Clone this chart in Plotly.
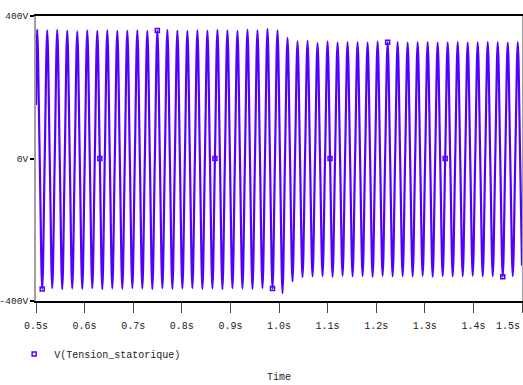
import plotly.graph_objects as go

# Times (s) of the positive peaks
peak_times = [0.5025, 0.5231, 0.5437, 0.5643, 0.5849, 0.6055, 0.6261, 0.6467, 0.6673, 0.6879,
              0.7085, 0.7291, 0.7497, 0.7703, 0.7909, 0.8115, 0.8321, 0.8527, 0.8733, 0.8939,
              0.9145, 0.9351, 0.9557, 0.9763, 0.9969, 1.0175, 1.0381, 1.0587, 1.0793, 1.0999,
              1.1205, 1.1411, 1.1617, 1.1823, 1.2029, 1.2235, 1.2441, 1.2647, 1.2853, 1.3059,
              1.3265, 1.3471, 1.3677, 1.3883, 1.4089, 1.4295, 1.4501, 1.4707, 1.4913]
# Positive peak values (V)
pos_peak = [362, 360, 361, 359, 357, 360, 358, 360, 358, 359,
            360, 358, 359, 361, 359, 358, 360, 359, 361, 360,
            358, 362, 360, 364, 360, 339, 329, 330, 324, 328,
            325, 327, 326, 325, 328, 326, 327, 325, 326, 327,
            325, 326, 327, 325, 326, 327, 326, 325, 327]
# Negative peak values (V), one between each pair of positive peaks
neg_peak = [-366, -364, -367, -365, -366, -364, -367, -365, -366, -364,
            -365, -367, -364, -366, -365, -364, -366, -365, -367, -364,
            -365, -366, -364, -365, -378, -345, -333, -331, -330, -332,
            -329, -331, -330, -332, -329, -331, -330, -331, -329, -332,
            -330, -331, -330, -329, -331, -330, -332, -330]
start_point = (0.5, 150)
end_point = (1.5, -300)

x_ticks = [0.5, 0.6, 0.7, 0.8, 0.9, 1.0, 1.1, 1.2, 1.3, 1.4, 1.5]
x_labels = ["0.5s", "0.6s", "0.7s", "0.8s", "0.9s", "1.0s", "1.1s", "1.2s", "1.3s", "1.4s", "1.5s"]
y_ticks = [-400, 0, 400]
y_labels = ["-400V", "0V", "400V"]

# Build the sample list: peaks, zero crossings, troughs
xs = [start_point[0]]
ys = [start_point[1]]
for k, tp in enumerate(peak_times):
    xs.append(tp); ys.append(pos_peak[k])
    if k < len(neg_peak):
        tn = (tp + peak_times[k + 1]) / 2
        xs.append((tp + tn) / 2); ys.append(0)
        xs.append(tn); ys.append(neg_peak[k])
        xs.append((tn + peak_times[k + 1]) / 2); ys.append(0)
xs.append((peak_times[-1] + end_point[0]) / 2 + 0.0005); ys.append(0)
xs.append(end_point[0]); ys.append(end_point[1])

color = "rgb(85,0,255)"
mono = "Liberation Mono"
txt = "#222222"

fig = go.Figure()
fig.add_trace(go.Scatter(
    x=xs, y=ys, mode="lines", line=dict(color=color, width=2.2, shape="spline", smoothing=1.0),
    showlegend=False, hoverinfo="skip"))
# PSpice trace symbols on some points of the trace
mx = [xs[i] for i in range(3, len(xs), 23)]
my = [ys[i] for i in range(3, len(ys), 23)]
fig.add_trace(go.Scatter(
    x=mx, y=my, mode="markers", name="V(Tension_statorique)", hoverinfo="skip",
    marker=dict(symbol="square-open", size=4, color=color, line=dict(width=1.5, color=color))))

# last tick label is drawn right-aligned at the plot edge (as in the original)
shown_labels = x_labels[:-1] + [""]
annotations = [dict(text=x_labels[-1], xref="x", yref="paper", x=x_ticks[-1], y=-0.088,
                    xanchor="right", yanchor="middle", showarrow=False,
                    font=dict(family=mono, size=10, color=txt)),
               dict(text="Time", xref="paper", yref="paper", x=0.5, y=-0.27,
                    xanchor="center", yanchor="middle", showarrow=False,
                    font=dict(family=mono, size=10, color=txt))]

fig.update_layout(
    width=523, height=385,
    margin=dict(l=36, r=1, t=16, b=84, autoexpand=False),
    plot_bgcolor="white", paper_bgcolor="white",
    font=dict(family=mono, size=10, color=txt),
    showlegend=True,
    legend=dict(x=-0.045, xanchor="left", y=-0.186, yanchor="middle",
                font=dict(family=mono, size=10, color=txt),
                bgcolor="rgba(0,0,0,0)", itemwidth=30),
    xaxis=dict(range=[0.5, 1.5], tickvals=x_ticks, ticktext=shown_labels,
               showline=True, linecolor="black", linewidth=2, mirror=True,
               ticks="outside", ticklen=10, tickcolor="#444444", tickwidth=1,
               showgrid=False, zeroline=False, ticklabelstandoff=4, automargin=False,
               ticklabeloverflow="allow",
               tickfont=dict(family=mono, size=10, color=txt)),
    yaxis=dict(range=[-400, 400], tickvals=y_ticks, ticktext=y_labels,
               showline=True, linecolor="#a0a0a0", linewidth=2, mirror=True,
               ticks="outside", ticklen=4, tickcolor="black", tickwidth=2,
               showgrid=False, zeroline=False, ticklabelstandoff=0, automargin=False,
               ticklabeloverflow="allow",
               tickfont=dict(family=mono, size=9.5, color=txt)),
    annotations=annotations,
)

fig.write_html("out.html", config={"displayModeBar": False},
               post_script="document.body.style.margin='0';document.body.style.overflow='hidden';")
